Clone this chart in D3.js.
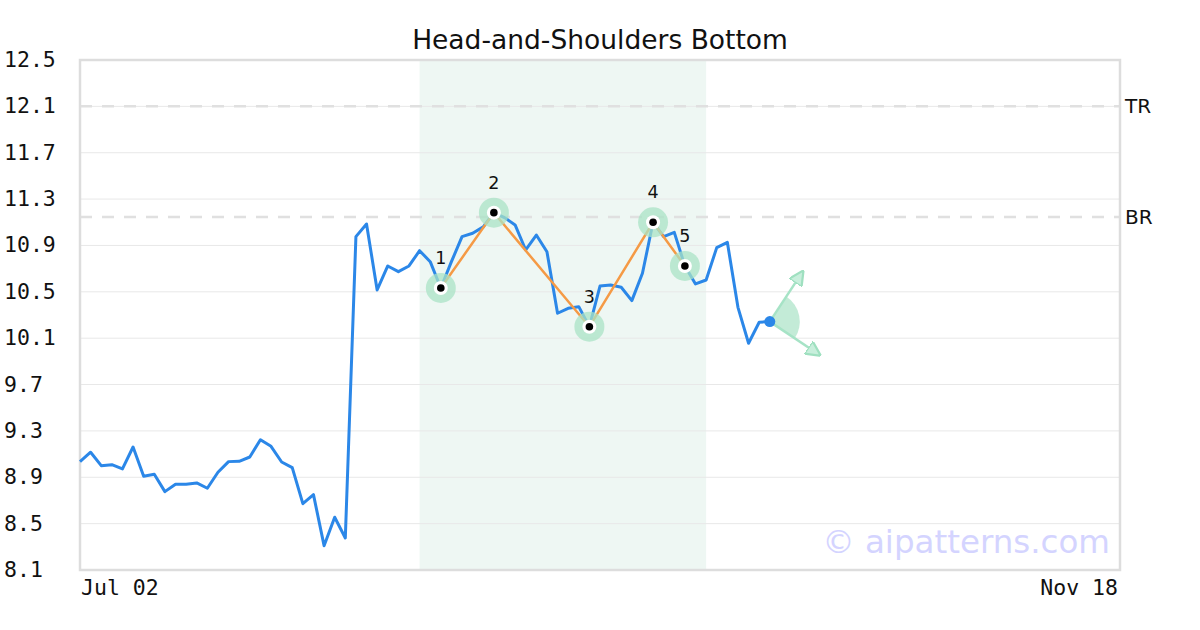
<!DOCTYPE html>
<html>
<head>
<meta charset="utf-8">
<script src="https://cdn.jsdelivr.net/npm/d3@7"></script>
<style>
  body { margin: 0; background: #fff; }
  svg { display: block; }
</style>
</head>
<body>
<div id="app"></div>
<script>
// price series, one value per trading day (index 0 = Jul 02)
const values = [
  9.035, 9.116, 9.000, 9.009, 8.972, 9.161, 8.909, 8.926, 8.776, 8.840,
  8.840, 8.851, 8.805, 8.943, 9.035, 9.038, 9.075, 9.224, 9.167, 9.032,
  8.983, 8.672, 8.750, 8.310, 8.555, 8.376, 10.976, 11.085, 10.516, 10.723,
  10.674, 10.723, 10.855, 10.760, 10.533, 10.760, 10.976, 11.005, 11.060, 11.183,
  11.140, 11.077, 10.861, 10.990, 10.846, 10.315, 10.358, 10.372, 10.199, 10.550,
  10.559, 10.539, 10.424, 10.660, 11.100, 10.976, 11.013, 10.723, 10.568, 10.602,
  10.881, 10.927, 10.366, 10.056, 10.237, 10.243
];
const lastIndex = 98;
const xTickIdx = [0, 98];
const xTickLabels = ['Jul 02', 'Nov 18'];
const yTicks = [8.1, 8.5, 8.9, 9.3, 9.7, 10.1, 10.5, 10.9, 11.3, 11.7, 12.1, 12.5];
const pivotIdx = [34, 39, 48, 54, 57];
const pivotLabels = ['1', '2', '3', '4', '5'];
const zone = [32, 59];
const levels = [{ name: 'TR', v: 12.1 }, { name: 'BR', v: 11.145 }];
// projected directions from the last point
const projUp = { i: 68.1, v: 10.674 };
const projDown = { i: 69.7, v: 9.955 };

const W = 1200, H = 630;
const m = { left: 80, right: 80, top: 60, bottom: 60 };

const svg = d3.select('#app').append('svg').attr('width', W).attr('height', H);

const x = d3.scaleLinear().domain([0, lastIndex]).range([m.left, W - m.right]);
const y = d3.scaleLinear().domain([8.1, 12.5]).range([H - m.bottom, m.top]);

// shaded pattern zone
svg.append('rect')
  .attr('x', x(zone[0])).attr('y', m.top)
  .attr('width', x(zone[1]) - x(zone[0]))
  .attr('height', y(8.1) - y(12.5))
  .attr('fill', '#eef7f3');

// grid
svg.append('g')
  .selectAll('line')
  .data(yTicks)
  .join('line')
  .attr('x1', m.left).attr('x2', W - m.right)
  .attr('y1', d => y(d)).attr('y2', d => y(d))
  .attr('stroke', '#e8e8e8').attr('stroke-width', 1);

// level lines
svg.append('g')
  .selectAll('line')
  .data(levels)
  .join('line')
  .attr('x1', m.left).attr('x2', W - m.right)
  .attr('y1', d => y(d.v)).attr('y2', d => y(d.v))
  .attr('stroke', '#e0e0e0').attr('stroke-width', 2.5)
  .attr('stroke-dasharray', '12,10');

svg.append('g')
  .selectAll('text')
  .data(levels)
  .join('text')
  .attr('x', W - m.right + 5).attr('y', d => y(d.v) + 1)
  .attr('dominant-baseline', 'middle')
  .attr('font-family', 'DejaVu Sans')
  .attr('font-size', 20)
  .attr('fill', '#111')
  .text(d => d.name);

// border
svg.append('rect')
  .attr('x', m.left).attr('y', m.top)
  .attr('width', W - m.left - m.right)
  .attr('height', H - m.top - m.bottom)
  .attr('fill', 'none')
  .attr('stroke', '#dddddd').attr('stroke-width', 2.5);

// y tick labels
svg.append('g')
  .selectAll('text')
  .data(yTicks)
  .join('text')
  .attr('x', 4).attr('y', d => y(d) + 1)
  .attr('dominant-baseline', 'middle')
  .attr('font-family', 'DejaVu Sans Mono')
  .attr('font-size', 21.5)
  .attr('fill', '#111')
  .text(d => d.toFixed(1));

// x tick labels
svg.append('g')
  .selectAll('text')
  .data(xTickIdx)
  .join('text')
  .attr('x', (d, i) => x(d) + (i === 0 ? 1 : -2))
  .attr('y', H - m.bottom + 25)
  .attr('text-anchor', (d, i) => (i === 0 ? 'start' : 'end'))
  .attr('font-family', 'DejaVu Sans Mono')
  .attr('font-size', 21.5)
  .attr('fill', '#111')
  .text((d, i) => xTickLabels[i]);

// watermark
svg.append('text')
  .attr('x', W - m.right - 10).attr('y', H - m.bottom - 17)
  .attr('text-anchor', 'end')
  .attr('font-family', 'DejaVu Sans')
  .attr('font-size', 32.5)
  .attr('fill', '#d4d4ff')
  .text('\u00a9 aipatterns.com');

// title
svg.append('text')
  .attr('x', W / 2).attr('y', 49)
  .attr('text-anchor', 'middle')
  .attr('font-family', 'DejaVu Sans')
  .attr('font-size', 26.5)
  .attr('fill', '#111')
  .text('Head-and-Shoulders Bottom');

// price line
const line = d3.line().x((d, i) => x(i)).y(d => y(d));
svg.append('path')
  .datum(values)
  .attr('d', line)
  .attr('fill', 'none')
  .attr('stroke', '#2b87e8')
  .attr('stroke-width', 3)
  .attr('stroke-linejoin', 'round');

// pivot zigzag
svg.append('path')
  .datum(pivotIdx)
  .attr('d', d3.line().x(d => x(d)).y(d => y(values[d])))
  .attr('fill', 'none')
  .attr('stroke', '#f59a45')
  .attr('stroke-width', 2.5);

const piv = svg.append('g')
  .selectAll('g')
  .data(pivotIdx)
  .join('g')
  .attr('transform', d => `translate(${x(d)},${y(values[d])})`);
piv.append('circle').attr('r', 15).attr('fill', '#a9e3c6').attr('fill-opacity', 0.75);
piv.append('circle').attr('r', 7).attr('fill', '#fff');
piv.append('circle').attr('r', 3.8).attr('fill', '#000');
piv.append('text')
  .attr('y', -24)
  .attr('text-anchor', 'middle')
  .attr('font-family', 'DejaVu Sans')
  .attr('font-size', 17.5)
  .attr('fill', '#111')
  .text((d, i) => pivotLabels[i]);

// projection wedge and arrows
const last = values.length - 1;
const px = x(last), py = y(values[last]);
const ang = p => Math.atan2(x(p.i) - px, -(y(p.v) - py));
const a0 = ang(projUp), a1 = ang(projDown);
svg.append('path')
  .attr('transform', `translate(${px},${py})`)
  .attr('d', d3.arc().innerRadius(0).outerRadius(30).startAngle(a0).endAngle(a1)())
  .attr('fill', '#a9e3c6').attr('fill-opacity', 0.7);

svg.append('defs').append('marker')
  .attr('id', 'head')
  .attr('viewBox', '0 0 10 10')
  .attr('refX', 9).attr('refY', 5)
  .attr('markerWidth', 6).attr('markerHeight', 6)
  .attr('orient', 'auto')
  .append('path')
  .attr('d', 'M0,0 L10,5 L0,10 Z')
  .attr('fill', '#c8efdc')
  .attr('stroke', '#9fe0c0')
  .attr('stroke-width', 1.5);

svg.append('g')
  .selectAll('line')
  .data([projUp, projDown])
  .join('line')
  .attr('x1', px).attr('y1', py)
  .attr('x2', d => x(d.i)).attr('y2', d => y(d.v))
  .attr('stroke', '#a6e3c6').attr('stroke-width', 2.5)
  .attr('marker-end', 'url(#head)');

svg.append('circle')
  .attr('cx', px).attr('cy', py).attr('r', 5.5)
  .attr('fill', '#2b87e8');
</script>
</body>
</html>
